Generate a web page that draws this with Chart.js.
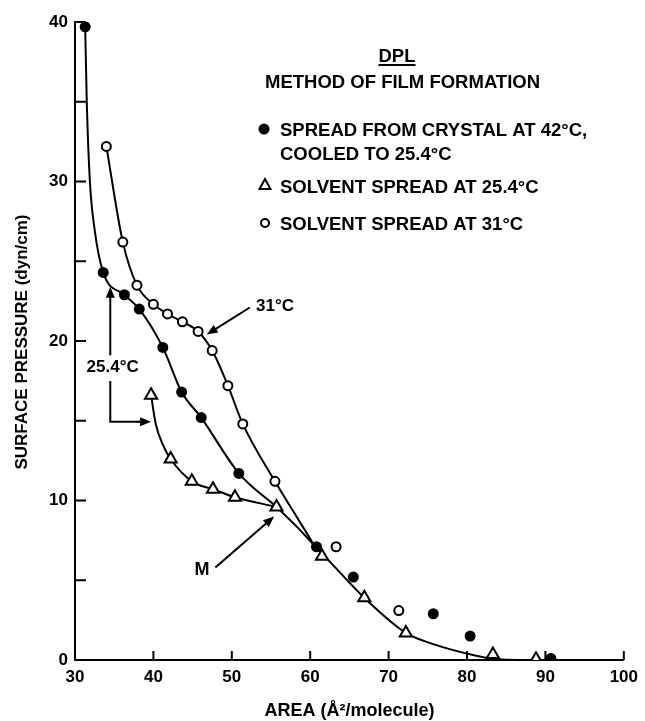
<!DOCTYPE html>
<html>
<head>
<meta charset="utf-8">
<script src="https://cdn.jsdelivr.net/npm/chart.js@4.4.1/dist/chart.umd.min.js"></script>
<style>
  body { margin: 0; background: #fff; }
  #wrap { width: 645px; height: 721px; }
</style>
</head>
<body>
<div id="wrap"><canvas id="dpl_chart"></canvas></div>
<script>
// measured points, area (A^2/molecule) vs surface pressure (dyn/cm)
const crystal_area = [31.3, 33.6, 36.3, 38.2, 41.2, 43.6, 46.1, 50.9, 60.8, 65.5, 75.7, 80.4, 90.7];
const crystal_pressure = [39.7, 24.3, 22.9, 22.0, 19.6, 16.8, 15.2, 11.7, 7.1, 5.2, 2.9, 1.5, 0.1];

const solvent25_area = [39.7, 42.2, 44.9, 47.6, 50.4, 55.7, 61.5, 66.9, 72.2, 83.3, 88.8];
const solvent25_pressure = [16.6, 12.6, 11.2, 10.7, 10.2, 9.6, 6.5, 3.9, 1.7, 0.35, 0.05];

const solvent31_area = [34.0, 36.1, 37.9, 40.0, 41.8, 43.7, 45.7, 47.5, 49.5, 51.4, 55.5, 63.3, 71.3];
const solvent31_pressure = [32.2, 26.2, 23.5, 22.3, 21.7, 21.2, 20.6, 19.4, 17.2, 14.8, 11.2, 7.1, 3.1];

// hand drawn curves
const crystal_curve_area = [31.3, 31.5, 31.9, 32.5, 33.6, 36.3, 38.2, 41.2, 43.6, 46.1, 50.9, 55.7];
const crystal_curve_pressure = [39.7, 35.0, 30.0, 27.0, 24.3, 22.9, 22.0, 19.6, 16.8, 15.2, 11.7, 9.6];

const solvent25_curve_area = [39.7, 40.3, 41.2, 42.2, 44.9, 47.6, 50.4, 55.7];
const solvent25_curve_pressure = [16.6, 14.8, 13.5, 12.6, 11.2, 10.7, 10.2, 9.6];

const solvent31_curve_area = [34.0, 36.1, 37.9, 40.0, 41.8, 43.7, 45.7, 47.5, 49.5, 51.4, 55.5, 58.0, 60.5];
const solvent31_curve_pressure = [32.2, 26.2, 23.5, 22.3, 21.7, 21.2, 20.6, 19.4, 17.2, 14.8, 11.2, 9.2, 7.2];

const common_curve_area = [55.7, 58.4, 60.5, 63.0, 66.9, 72.2, 76.0, 80.0, 83.0, 88.0, 95.0];
const common_curve_pressure = [9.6, 8.3, 7.2, 5.9, 3.9, 1.7, 0.95, 0.4, 0.1, 0.0, 0.0];

const x_ticks = [30, 40, 50, 60, 70, 80, 90, 100];
const y_ticks = [0, 5, 10, 15, 20, 25, 30, 35, 40];

const FONT = "'Liberation Sans', Arial, Helvetica, sans-serif";

function pts(xs, ys) {
  return xs.map((x, i) => ({ x: x, y: ys[i] }));
}

function curve(xs, ys) {
  return {
    type: "line",
    data: pts(xs, ys),
    borderColor: "#000",
    borderWidth: 2,
    pointRadius: 0,
    cubicInterpolationMode: "monotone",
    fill: false,
    order: 2,
  };
}

function arrow(ctx, x1, y1, x2, y2) {
  const a = Math.atan2(y2 - y1, x2 - x1);
  const len = 11, half = 4.5;
  ctx.beginPath();
  ctx.moveTo(x1, y1);
  ctx.lineTo(x2 - Math.cos(a) * len * 0.8, y2 - Math.sin(a) * len * 0.8);
  ctx.stroke();
  ctx.beginPath();
  ctx.moveTo(x2, y2);
  ctx.lineTo(x2 - Math.cos(a) * len - Math.sin(a) * half, y2 - Math.sin(a) * len + Math.cos(a) * half);
  ctx.lineTo(x2 - Math.cos(a) * len + Math.sin(a) * half, y2 - Math.sin(a) * len - Math.cos(a) * half);
  ctx.closePath();
  ctx.fill();
}

const overlay = {
  id: "overlay",
  afterDraw(chart) {
    const ctx = chart.ctx;
    const xs = chart.scales.x, ys = chart.scales.y;
    const px = (v) => xs.getPixelForValue(v);
    const py = (v) => ys.getPixelForValue(v);
    const area = chart.chartArea;
    ctx.save();
    ctx.strokeStyle = "#000";
    ctx.fillStyle = "#000";
    ctx.lineWidth = 2;

    // inward tick marks
    x_ticks.forEach((v) => {
      ctx.beginPath();
      ctx.moveTo(px(v), area.bottom);
      ctx.lineTo(px(v), area.bottom - 9);
      ctx.stroke();
    });
    y_ticks.forEach((v) => {
      ctx.beginPath();
      ctx.moveTo(area.left, py(v));
      ctx.lineTo(area.left + 11, py(v));
      ctx.stroke();
    });

    // arrows
    arrow(ctx, px(52.3), py(22.1), px(46.8), py(20.4));
    arrow(ctx, px(47.9), py(5.8), px(55.4), py(9.0));
    arrow(ctx, px(34.5), py(19.1), px(34.5), py(23.4));
    ctx.beginPath();
    ctx.moveTo(px(34.5), py(17.5));
    ctx.lineTo(px(34.5), py(14.93));
    ctx.lineTo(px(38.5), py(14.93));
    ctx.stroke();
    arrow(ctx, px(38.0), py(14.93), px(39.7), py(14.93));

    // labels on the plot
    ctx.font = "bold 17px " + FONT;
    ctx.textBaseline = "middle";
    ctx.textAlign = "center";
    ctx.fillText("25.4°C", px(34.8), py(18.36));
    ctx.font = "bold 18px " + FONT;
    ctx.fillText("M", px(46.2), py(5.64));
    ctx.font = "bold 17px " + FONT;
    ctx.textAlign = "left";
    ctx.fillText("31°C", px(53.1), py(22.2));

    // key
    ctx.font = "bold 18.5px " + FONT;
    ctx.textBaseline = "alphabetic";
    ctx.textAlign = "center";
    ctx.fillText("DPL", 397, 62);
    const w = ctx.measureText("DPL").width;
    ctx.fillRect(397 - w / 2, 64, w, 2);
    ctx.textAlign = "left";
    ctx.fillText("METHOD OF FILM FORMATION", 265, 88);
    ctx.fillText("SPREAD FROM CRYSTAL AT 42°C,", 280, 136);
    ctx.fillText("COOLED TO 25.4°C", 280, 159.5);
    ctx.fillText("SOLVENT SPREAD AT 25.4°C", 280, 192.5);
    ctx.fillText("SOLVENT SPREAD AT 31°C", 280, 229.5);

    ctx.beginPath();
    ctx.arc(264, 129, 5.5, 0, Math.PI * 2);
    ctx.fill();
    ctx.beginPath();
    ctx.moveTo(265, 179);
    ctx.lineTo(270.5, 189);
    ctx.lineTo(259.5, 189);
    ctx.closePath();
    ctx.stroke();
    ctx.beginPath();
    ctx.arc(265, 223, 4, 0, Math.PI * 2);
    ctx.stroke();

    // axis titles
    ctx.font = "bold 18px " + FONT;
    ctx.textAlign = "center";
    ctx.textBaseline = "middle";
    ctx.fillText("AREA (Å²/molecule)", (area.left + area.right) / 2, 711);
    ctx.font = "bold 17px " + FONT;
    ctx.translate(22, 342);
    ctx.rotate(-Math.PI / 2);
    ctx.fillText("SURFACE PRESSURE (dyn/cm)", 0, 0);
    ctx.restore();
  },
};

const dpl_config = {
  type: "scatter",
  data: {
    datasets: [
      {
        label: "Spread from crystal at 42°C, cooled to 25.4°C",
        data: pts(crystal_area, crystal_pressure),
        pointStyle: "circle",
        pointRadius: 5.5,
        backgroundColor: "#000",
        borderColor: "#000",
        borderWidth: 0,
        order: 1,
      },
      {
        label: "Solvent spread at 25.4°C",
        data: pts(solvent25_area, solvent25_pressure),
        pointStyle: "triangle",
        pointRadius: 7,
        backgroundColor: "#fff",
        borderColor: "#000",
        borderWidth: 2,
        order: 1,
      },
      {
        label: "Solvent spread at 31°C",
        data: pts(solvent31_area, solvent31_pressure),
        pointStyle: "circle",
        pointRadius: 4.5,
        backgroundColor: "#fff",
        borderColor: "#000",
        borderWidth: 2,
        order: 1,
      },
      curve(crystal_curve_area, crystal_curve_pressure),
      curve(solvent25_curve_area, solvent25_curve_pressure),
      curve(solvent31_curve_area, solvent31_curve_pressure),
      curve(common_curve_area, common_curve_pressure),
    ],
  },
  options: {
    responsive: true,
    maintainAspectRatio: false,
    animation: false,
    layout: { padding: { left: 0, right: 15, top: 22, bottom: 0 } },
    plugins: {
      legend: { display: false },
      tooltip: { enabled: false },
    },
    scales: {
      x: {
        type: "linear",
        min: 30,
        max: 100,
        afterFit: (s) => { s.height = 61; },
        ticks: { stepSize: 10, color: "#000", padding: 7, font: { family: FONT, size: 17, weight: "bold" } },
        grid: { display: false, drawTicks: false },
        border: { display: true, color: "#000", width: 2 },
      },
      y: {
        min: 0,
        max: 40,
        afterFit: (s) => { s.width = 75; },
        ticks: { stepSize: 10, color: "#000", padding: 7, font: { family: FONT, size: 17, weight: "bold" } },
        grid: { display: false, drawTicks: false },
        border: { display: true, color: "#000", width: 2 },
      },
    },
  },
  plugins: [overlay],
};

const dpl_chart = new Chart(document.getElementById("dpl_chart"), dpl_config);
</script>
</body>
</html>
